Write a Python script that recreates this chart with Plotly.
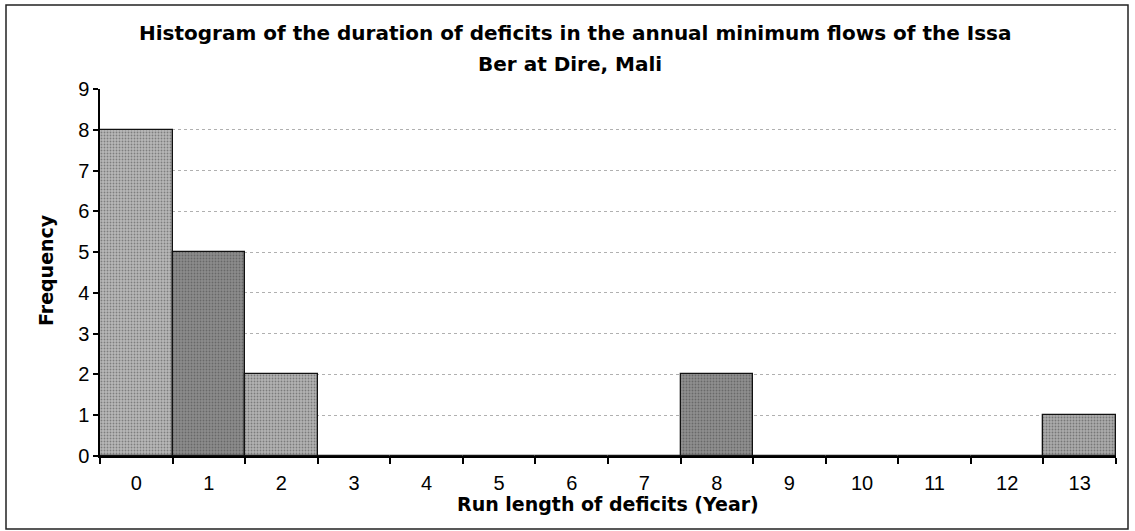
import plotly.graph_objects as go

# run length of deficits (years) and how often each occurred
run_length = list(range(14))
frequency = [8, 5, 2, 0, 0, 0, 0, 0, 2, 0, 0, 0, 0, 1]
bar_colors = ['#b8b8b8', '#8c8c8c', '#b3b3b3', '#a0a0a0', '#a0a0a0', '#a0a0a0',
              '#a0a0a0', '#a0a0a0', '#8f8f8f', '#a0a0a0', '#a0a0a0', '#a0a0a0',
              '#a0a0a0', '#ababab']

TICK_FONT = 'Liberation Sans, Arial, sans-serif'
BOLD_FONT = 'DejaVu Sans, Verdana, sans-serif'
PW, PH = 1016, 367  # plot area size in px

fig = go.Figure()
fig.add_trace(go.Bar(
    x=run_length, y=frequency, width=1.0,
    marker=dict(color=bar_colors, line=dict(color='#111111', width=1.3),
                pattern=dict(shape='.', size=3, solidity=0.3,
                             fgcolor='#5a5a5a', fillmode='overlay')),
    showlegend=False,
))

# outer frame around the whole chart
fig.add_shape(type='rect', xref='paper', yref='paper',
              x0=-94/PW, x1=1+12/PW, y0=-73/PH, y1=1+84/PH,
              line=dict(color='#222222', width=1.5), layer='below')


def label(text, px_x, px_y, size, angle=0):
    fig.add_annotation(text=text, textangle=angle,
                       xref='paper', yref='paper',
                       x=(px_x - 100) / PW, y=(456 - px_y) / PH,
                       xanchor='center', yanchor='middle',
                       showarrow=False, font=dict(size=size, family=BOLD_FONT))


# two-line title, placed line by line
label('<b>Histogram of the duration of deficits in the annual minimum flows of the Issa</b>', 575, 33, 20)
label('<b>Ber at Dire, Mali</b>', 570, 64, 20)

# axis titles
label('<b>Run length of deficits (Year)</b>', 608, 504, 19)
label('<b>Frequency</b>', 46, 270, 19, angle=-90)

fig.update_layout(
    width=1135, height=531,
    paper_bgcolor='white', plot_bgcolor='white',
    margin=dict(l=100, r=19, t=89, b=75),
    font=dict(family=TICK_FONT, color='black', size=20),
    bargap=0,
    xaxis=dict(
        range=[-0.5, 13.5], tickmode='array', tickvals=run_length,
        ticktext=[str(v) for v in run_length], ticks='', ticklabelstandoff=8,
        showgrid=False, zeroline=False, showline=True, linecolor='black', linewidth=1.5,
        minor=dict(tick0=-0.5, dtick=1, ticks='outside', ticklen=6,
                   tickcolor='black', tickwidth=1.5, showgrid=False),
        tickfont=dict(size=20),
    ),
    yaxis=dict(
        range=[0, 9], dtick=1, ticks='outside', ticklen=5, tickcolor='black', tickwidth=1.5,
        showgrid=True, gridcolor='#b0b0b0', griddash='dot', gridwidth=1,
        zeroline=False, showline=True, linecolor='black', linewidth=1.5,
        tickfont=dict(size=20),
    ),
)

fig.write_html('out.html', config={'displayModeBar': False},
               post_script="document.body.style.margin='0';")
